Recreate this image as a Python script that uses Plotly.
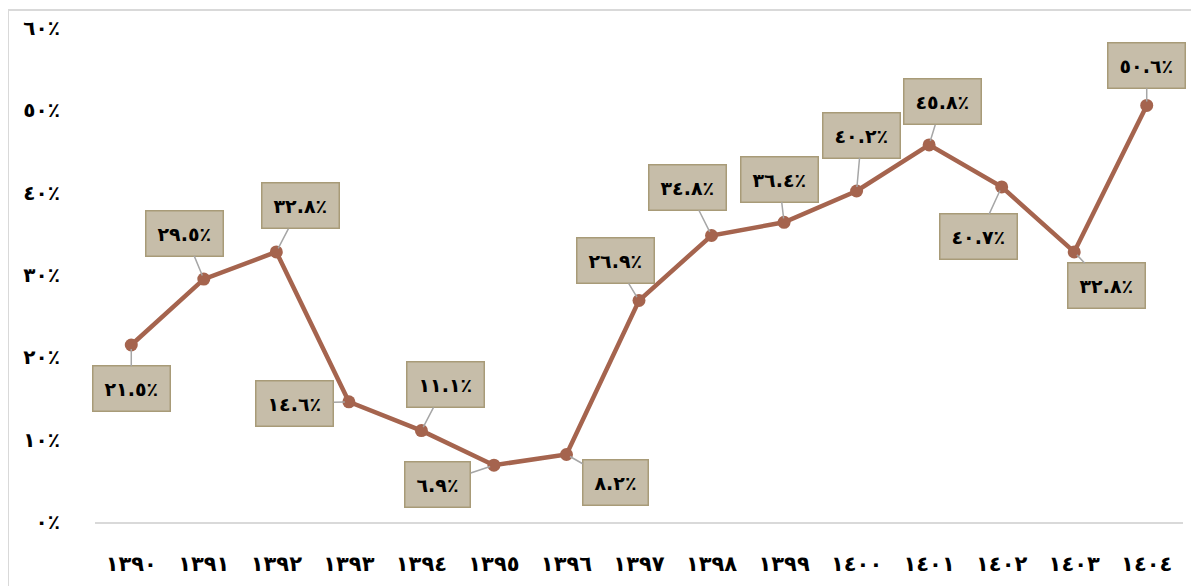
import plotly.graph_objects as go

years = ["١٣٩٠", "١٣٩١", "١٣٩٢", "١٣٩٣", "١٣٩٤", "١٣٩٥", "١٣٩٦", "١٣٩٧",
         "١٣٩٨", "١٣٩٩", "١٤٠٠", "١٤٠١", "١٤٠٢", "١٤٠٣", "١٤٠٤"]
values = [21.5, 29.5, 32.8, 14.6, 11.1, 6.9, 8.2, 26.9, 34.8, 36.4, 40.2, 45.8, 40.7, 32.8, 50.6]
y_tickvals = [0, 10, 20, 30, 40, 50, 60]

# label box offsets (pixels) relative to each point
label_dx = [0, -19, 24, -54, 24, -56, 49, -24, -24, -5, 5, 13, -23, 32, 0]
label_dy = [44, -46, -46, 2, -46, 19, 28, -40, -48, -43, -56, -43, 50, 34, -40]

AR_DIGITS = "٠١٢٣٤٥٦٧٨٩"


def to_ar(s):
    return "".join(AR_DIGITS[int(c)] if c.isdigit() else c for c in s)


def pct(v, dec=1):
    return to_ar(f"{v:.{dec}f}") + "٪"


FONT = "DejaVu Sans"
LINE = "#a5644e"

fig = go.Figure()
fig.add_trace(go.Scatter(
    x=years, y=values, mode="lines+markers",
    line=dict(color=LINE, width=4.5),
    marker=dict(color=LINE, size=13),
    hoverinfo="skip", showlegend=False,
))

for xv, yv, dx, dy in zip(years, values, label_dx, label_dy):
    fig.add_annotation(
        x=xv, y=yv, text="<b>" + pct(yv) + "</b>",
        showarrow=True, arrowhead=0, arrowwidth=1.5, arrowcolor="#a6a6a6",
        ax=dx, ay=dy, standoff=4,
        bgcolor="#c6bda9", bordercolor="#a89b78", borderwidth=1.5, borderpad=11,
        font=dict(family=FONT, size=19, color="#000000"),
    )

# page has an 8px body margin: figure sits at (8, 8)
W, H = 1191, 578
L, R, T, B = 87, 16, 20, 64
pw, ph = W - L - R, H - T - B
# outer light-grey frame around the chart
fig.add_shape(type="rect", xref="paper", yref="paper",
              x0=(0 - L) / pw, x1=(W - 2 - L) / pw,
              y0=(H - B - (H + 10)) / ph, y1=(H - B - 2) / ph,
              line=dict(color="#d9d9d9", width=2), fillcolor="rgba(0,0,0,0)", layer="below")

fig.update_layout(
    width=W, height=H,
    margin=dict(l=L, r=R, t=T, b=B, autoexpand=False),
    paper_bgcolor="white", plot_bgcolor="white",
    font=dict(family=FONT),
    xaxis=dict(
        type="category", range=[-0.5, len(years) - 0.5],
        showgrid=False, zeroline=False, automargin=False,
        showline=True, linecolor="#d9d9d9", linewidth=1.5,
        ticks="", ticklabelstandoff=22,
        tickfont=dict(family=FONT, size=21, color="#000000", weight="bold"),
    ),
    yaxis=dict(
        range=[0, 60], tickvals=y_tickvals, ticktext=[pct(v, 0) for v in y_tickvals],
        showgrid=False, zeroline=False, showline=False, ticks="", automargin=False,
        ticklabelstandoff=34,
        tickfont=dict(family=FONT, size=20, color="#000000", weight="bold"),
    ),
)

fig.write_html("out.html")
